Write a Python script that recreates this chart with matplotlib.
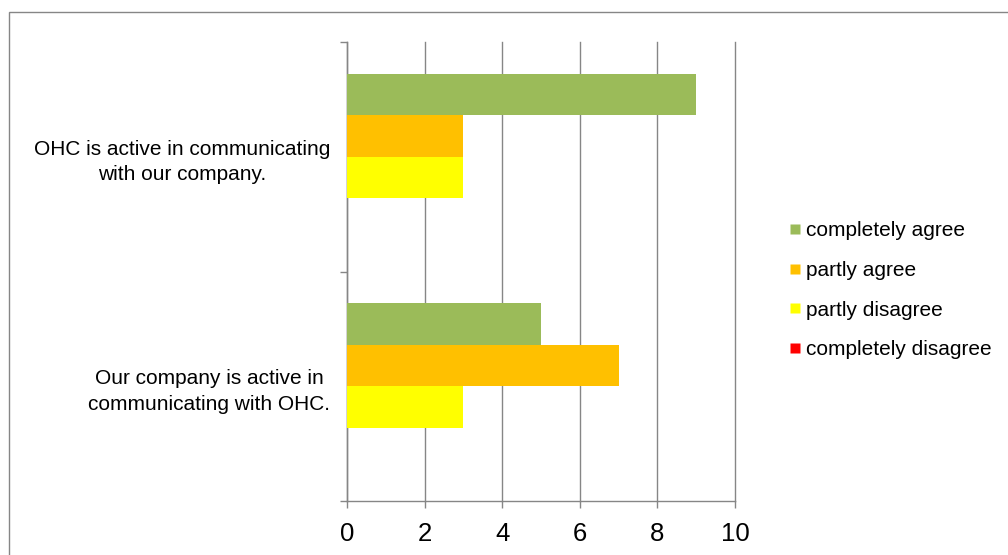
import matplotlib
matplotlib.use("Agg")
import matplotlib.pyplot as plt
from matplotlib.lines import Line2D
from matplotlib.patches import Rectangle
import numpy as np

plt.rcParams['font.family'] = ['Liberation Sans', 'DejaVu Sans']

categories = ["Our company is active in\ncommunicating with OHC.",
              "OHC is active in communicating\nwith our company."]
series_names = ["completely agree", "partly agree", "partly disagree", "completely disagree"]
series_values = [
    [5, 9],   # completely agree
    [7, 3],   # partly agree
    [3, 3],   # partly disagree
    [0, 0],   # completely disagree
]
colors = ["#9BBB59", "#FFC000", "#FFFF00", "#FF0000"]
x_ticks = [0, 2, 4, 6, 8, 10]

grid_color = "#868686"

fig = plt.figure(figsize=(10.08, 5.55), dpi=100)
fig.patch.set_facecolor("white")

# chart frame (runs off the right and bottom edges)
fig.patches.append(Rectangle((9 / 1008, -0.1), 1.2, (1 - 12 / 555) + 0.1,
                             transform=fig.transFigure, fill=False,
                             edgecolor=grid_color, linewidth=1.0))

ax = fig.add_axes([347 / 1008, 1 - 501 / 555, (735 - 347) / 1008, (501 - 42) / 555])

bar_h = 0.181
n = len(series_names)
centers = np.arange(len(categories)) + 0.5
for i, (name, vals, col) in enumerate(zip(series_names, series_values, colors)):
    offset = ((n - 1) / 2 - i) * bar_h
    ax.barh(centers + offset, vals, height=bar_h, color=col, label=name,
            edgecolor="none", zorder=3)

ax.set_xlim(0, 10)
ax.set_ylim(0, len(categories))
ax.set_xticks(x_ticks)
ax.set_xticklabels([str(t) for t in x_ticks], fontsize=18.5)
ax.tick_params(axis="x", direction="out", length=5, width=1.0, color=grid_color, pad=10)

ax.set_yticks(np.arange(len(categories) + 1))
ax.set_yticklabels([])
ax.tick_params(axis="y", which="major", direction="out", length=5, width=1.0, color=grid_color)
ax.set_yticks(centers, minor=True)
ax.set_yticklabels(categories, minor=True, fontsize=15, multialignment="center",
                   linespacing=1.45)
ax.tick_params(axis="y", which="minor", length=0, pad=12)

ax.grid(axis="x", color=grid_color, linewidth=1.0, zorder=0)
for gl in ax.get_xgridlines():
    gl.set_clip_on(False)
for s in ["top", "right"]:
    ax.spines[s].set_visible(False)
for s in ["left", "bottom"]:
    ax.spines[s].set_color(grid_color)
    ax.spines[s].set_linewidth(1.0)

handles = [Line2D([], [], marker="s", linestyle="none", markersize=7.2,
                  markerfacecolor=c, markeredgecolor="none") for c in colors]
fig.legend(handles, series_names, loc="upper left",
           bbox_to_anchor=(789 / 1008, 1 - 221 / 555), frameon=False,
           fontsize=15, handlelength=0.55, handletextpad=0.25,
           labelspacing=1.0, borderpad=0, borderaxespad=0)

fig.savefig("out.png", dpi=100, facecolor="white")
